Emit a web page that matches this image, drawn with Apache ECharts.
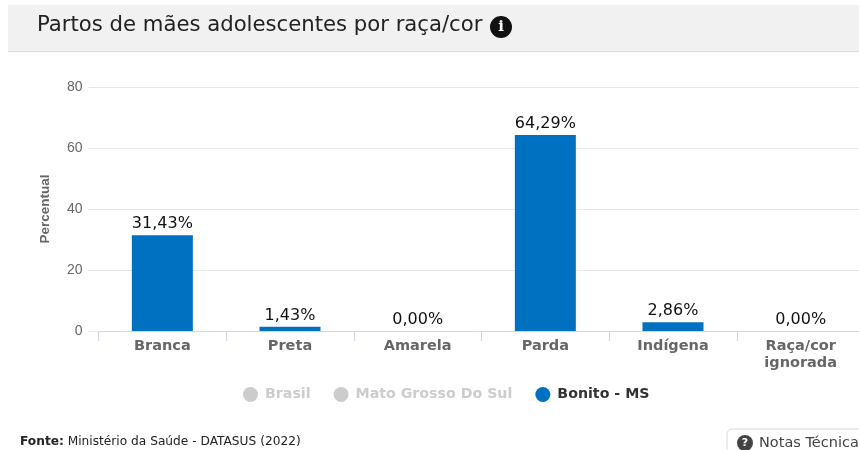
<!DOCTYPE html>
<html><head><meta charset="utf-8">
<style>html,body{margin:0;padding:0;background:#fff;overflow:hidden}#c{width:859px;height:450px}</style>
<script src="https://cdn.jsdelivr.net/npm/echarts@6/dist/echarts.min.js"></script>
</head><body><div id="c"></div>
<script>
const categories = ['Branca','Preta','Amarela','Parda','Indígena','Raça/cor\nignorada'];
const bonitoValues = [31.43,1.43,0,64.29,2.86,0];
const brasilValues = [];
const matoGrossoValues = [];
const yTicks = {min:0,max:80,interval:20};
const FONT = '"DejaVu Sans", sans-serif';
const chart = echarts.init(document.getElementById('c'),null,{renderer:'canvas'});
const commonBar = {type:'bar',barWidth:61,barGap:'0%'};
chart.setOption({
  animation:false,
  backgroundColor:'#fff',
  grid:{left:98.5,width:766,top:87,bottom:119,containLabel:false,outerBoundsMode:'none'},
  legend:{
    left:243,top:387,padding:0,icon:'circle',itemWidth:17,itemHeight:15,itemGap:23,
    data:['Brasil','Mato Grosso Do Sul','Bonito - MS'],
    selected:{'Brasil':false,'Mato Grosso Do Sul':false,'Bonito - MS':true},
    inactiveColor:'#cccccc',
    textStyle:{fontFamily:FONT,fontSize:14.2,fontWeight:'bold',color:'#333',padding:[0,0,0,1]}
  },
  xAxis:{type:'category',data:categories,
    axisLine:{lineStyle:{color:'#ccd6eb',width:1}},
    axisTick:{show:true,length:10,lineStyle:{color:'#ccd6eb'}},
    axisLabel:{fontFamily:FONT,fontSize:14.5,fontWeight:'bold',color:'#666',margin:7,lineHeight:17,interval:0}
  },
  yAxis:{type:'value',min:yTicks.min,max:yTicks.max,interval:yTicks.interval,
    name:'Percentual',nameLocation:'middle',nameGap:46,
    nameTextStyle:{fontFamily:'"Liberation Sans Narrow", "Liberation Sans", sans-serif',fontSize:13.5,fontWeight:'bold',color:'#666'},
    axisLine:{show:false},
    axisTick:{show:true,length:10,lineStyle:{color:'#e6e6e6'}},
    splitLine:{lineStyle:{color:'#e6e6e6',width:1}},
    axisLabel:{fontFamily:'"Liberation Sans", Arial, sans-serif',fontSize:14,color:'#666',margin:16}
  },
  series:[
    Object.assign({},commonBar,{name:'Brasil',data:brasilValues,itemStyle:{color:'#888'}}),
    Object.assign({},commonBar,{name:'Mato Grosso Do Sul',data:matoGrossoValues,itemStyle:{color:'#aaa'}}),
    Object.assign({},commonBar,{name:'Bonito - MS',data:bonitoValues,itemStyle:{color:'#0070c0'},
      label:{show:true,position:'top',distance:3,fontFamily:FONT,fontSize:16,fontWeight:'normal',color:'#111',
        formatter:p=>p.value.toFixed(2).replace('.',',')+'%'}})
  ],
  graphic:[
    {type:'rect',z:-1,shape:{x:8,y:5,width:851,height:46},style:{fill:'#f1f1f1'}},
    {type:'line',z:-1,shape:{x1:8,y1:51.5,x2:859,y2:51.5},style:{stroke:'#d9d9d9',lineWidth:1}},
    {type:'text',x:37,y:15,style:{text:'Partos de mães adolescentes por raça/cor',fontFamily:FONT,fontSize:21.2,fill:'#222'}},
    {type:'circle',shape:{cx:501,cy:27,r:11},style:{fill:'#111'}},
    {type:'text',x:501,y:27,style:{text:'i',fontFamily:'"DejaVu Serif", serif',fontWeight:'bold',fontSize:15,fill:'#fff',align:'center',verticalAlign:'middle'}},
    {type:'text',x:20,y:436,style:{text:'{b|Fonte:} Ministério da Saúde - DATASUS (2022)',fontFamily:FONT,fontSize:12.2,fill:'#222',
      rich:{b:{fontFamily:FONT,fontSize:12.2,fontWeight:'bold',fill:'#222'}}}},
    {type:'rect',shape:{x:727,y:429,width:140,height:40,r:5},style:{fill:'#fff',stroke:'#d9d9d9',lineWidth:1}},
    {type:'circle',shape:{cx:745,cy:443,r:8},style:{fill:'#444'}},
    {type:'text',x:745,y:443,style:{text:'?',fontFamily:FONT,fontWeight:'bold',fontSize:11,fill:'#fff',align:'center',verticalAlign:'middle'}},
    {type:'text',x:759,y:436,style:{text:'Notas Técnicas',fontFamily:FONT,fontSize:14.5,fill:'#444'}}
  ]
});
</script></body></html>
